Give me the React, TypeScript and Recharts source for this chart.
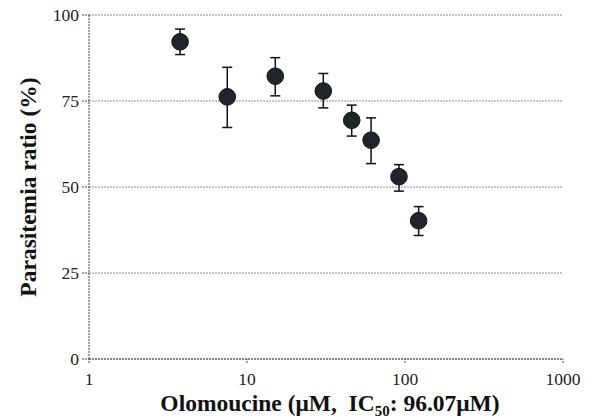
import { ScatterChart, Scatter, XAxis, YAxis, CartesianGrid, ErrorBar } from 'recharts';

const concentrations = [3.77, 7.5, 15.1, 30.4, 46, 61, 91.6, 122];
const parasitemia = [92.2, 76.2, 82.2, 77.9, 69.4, 63.6, 53.0, 40.2];
const errLow = [3.7, 8.9, 5.7, 4.9, 4.6, 6.8, 4.2, 4.3];
const errHigh = [3.7, 8.6, 5.4, 5.1, 4.4, 6.5, 3.5, 4.1];
const xTicks = [1, 10, 100, 1000];
const yTicks = [0, 25, 50, 75, 100];

const data = concentrations.map((c, i) => ({
  conc: c,
  ratio: parasitemia[i],
  err: [errLow[i], errHigh[i]],
}));

const serif = '"Liberation Serif", "DejaVu Serif", serif';

function Dot(props: any) {
  const { cx, cy } = props;
  if (cx == null || cy == null) return null;
  return <circle cx={cx} cy={cy} r={8.3} fill="#1f262b" stroke="#111" strokeWidth={1} />;
}

function YTitle(props: any) {
  const vb = props.viewBox || {};
  const x = 28;
  const y = vb.y + vb.height / 2;
  return (
    <text
      x={x}
      y={y}
      transform={`rotate(-90 ${x} ${y})`}
      textAnchor="middle"
      dominantBaseline="central"
      fontFamily={serif}
      fontWeight="bold"
      fontSize={23.5}
      fill="#111"
    >
      Parasitemia ratio (%)
    </text>
  );
}

function XTitle(props: any) {
  const vb = props.viewBox || {};
  const x = vb.x + vb.width / 2 + 4;
  return (
    <text x={x} y={411} textAnchor="middle" fontFamily={serif} fontWeight="bold" fontSize={23.5} fill="#111">
      {'Olomoucine (μM,\u00a0 IC'}
      <tspan fontSize={15} dy={5}>50</tspan>
      <tspan dy={-5}>: 96.07μM)</tspan>
    </text>
  );
}

export default function App() {
  return (
    <div style={{ position: 'absolute', left: 0, top: 0, width: 593, height: 420, background: '#fff' }}>
      <ScatterChart width={593} height={420} margin={{ top: 15, right: 30, bottom: 21, left: 29 }}>
        <CartesianGrid
          horizontal={true}
          vertical={false}
          stroke="#8a8a8a"
          strokeDasharray="2 1"
        />
        <XAxis
          type="number"
          dataKey="conc"
          scale="log"
          domain={[1, 1000]}
          ticks={xTicks}
          allowDataOverflow
          height={40}
          tickSize={4}
          tickMargin={10}
          stroke="#444"
          strokeDasharray="2 1"
          tick={{ fontFamily: serif, fontSize: 17.5, fill: '#222' }}
          label={<XTitle />}
        />
        <YAxis
          type="number"
          dataKey="ratio"
          domain={[0, 100]}
          ticks={yTicks}
          width={60}
          tickSize={7}
          tickMargin={3}
          stroke="#444"
          strokeDasharray="2 1"
          tick={{ fontFamily: serif, fontSize: 17.5, fill: '#222' }}
          label={<YTitle />}
        />
        <Scatter data={data} shape={<Dot />} isAnimationActive={false}>
          <ErrorBar dataKey="err" direction="y" width={5} stroke="#111" strokeWidth={1.5} />
        </Scatter>
      </ScatterChart>
    </div>
  );
}
